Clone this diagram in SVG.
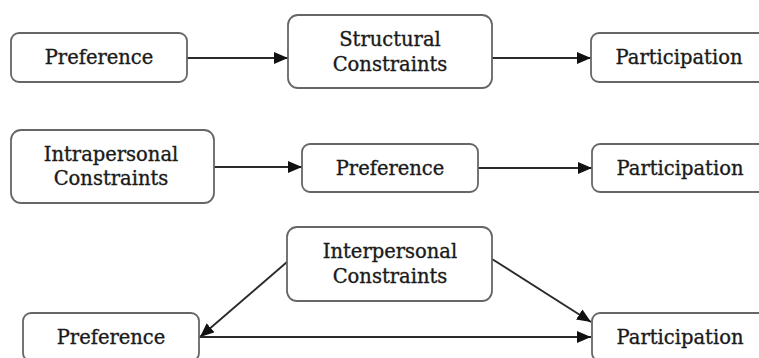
<svg xmlns="http://www.w3.org/2000/svg" width="759" height="358" viewBox="0 0 759 358">
<style>
.box{fill:#fff;stroke:#666;stroke-width:1.8}
.t{font-family:"DejaVu Serif","Liberation Serif",serif;font-size:19.5px;fill:#1a1a1a;stroke:#1a1a1a;stroke-width:0.35;text-anchor:middle}
.c{fill:none;stroke:#2a2a2a;stroke-width:1.9}
</style>
<defs>
<marker id="ah" markerUnits="userSpaceOnUse" markerWidth="15" markerHeight="13" refX="14" refY="6" orient="auto">
<path d="M0,0 L14,6 L0,12 z" fill="#111"/>
</marker>
</defs>
<rect width="759" height="358" fill="#fff"/>
<g id="connectors">
<line class="c" x1="187" y1="58" x2="288" y2="58" marker-end="url(#ah)"/>
<line class="c" x1="492" y1="58" x2="591" y2="58" marker-end="url(#ah)"/>
<line class="c" x1="214" y1="167" x2="302" y2="167" marker-end="url(#ah)"/>
<line class="c" x1="478" y1="168" x2="592" y2="168" marker-end="url(#ah)"/>
<line class="c" x1="287" y1="262" x2="200" y2="337" marker-end="url(#ah)"/>
<line class="c" x1="199" y1="337" x2="591" y2="337" marker-end="url(#ah)"/>
<line class="c" x1="492" y1="259" x2="591" y2="322" marker-end="url(#ah)"/>
</g>
<g id="pref1"><rect class="box" x="11" y="33" width="176" height="49" rx="8"/><text class="t" x="99" y="64">Preference</text></g>
<g id="struct"><rect class="box" x="288" y="15" width="204" height="73" rx="10"/><text class="t" x="390" y="45.5">Structural</text><text class="t" x="390" y="70.5">Constraints</text></g>
<g id="part1"><rect class="box" x="591" y="33" width="177" height="49" rx="8"/><text class="t" x="679" y="64">Participation</text></g>
<g id="intra"><rect class="box" x="11" y="130" width="203" height="73" rx="10"/><text class="t" x="111" y="160.5">Intrapersonal</text><text class="t" x="111" y="185">Constraints</text></g>
<g id="pref2"><rect class="box" x="302" y="144" width="176" height="48" rx="8"/><text class="t" x="390" y="174.5">Preference</text></g>
<g id="part2"><rect class="box" x="592" y="144" width="176" height="48" rx="8"/><text class="t" x="680" y="174.5">Participation</text></g>
<g id="inter"><rect class="box" x="287" y="227" width="205" height="74" rx="10"/><text class="t" x="390" y="258">Interpersonal</text><text class="t" x="390" y="283">Constraints</text></g>
<g id="pref3"><rect class="box" x="23" y="313" width="176" height="48" rx="8"/><text class="t" x="111" y="344">Preference</text></g>
<g id="part3"><rect class="box" x="592" y="313" width="176" height="48" rx="8"/><text class="t" x="680" y="344">Participation</text></g>
</svg>
